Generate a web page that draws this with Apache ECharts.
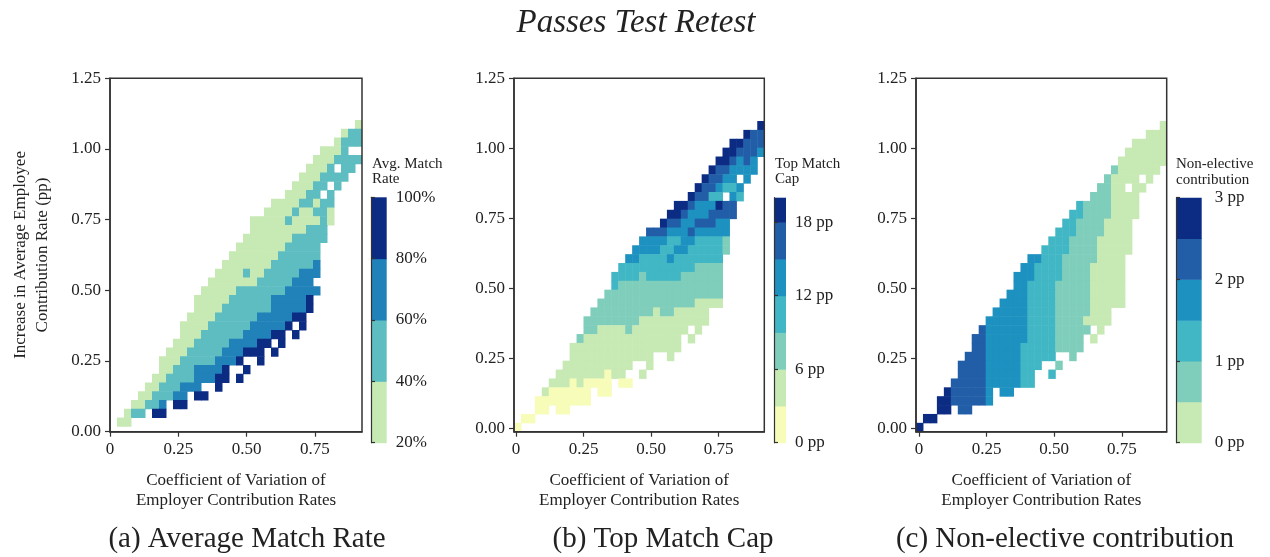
<!DOCTYPE html>
<html>
<head>
<meta charset="utf-8">
<title>Passes Test Retest</title>
<script src="https://cdn.jsdelivr.net/npm/echarts@6/dist/echarts.min.js"></script>
<style>
html, body { margin: 0; padding: 0; background: #fff; }
#main { width: 1270px; height: 557px; }
</style>
</head>
<body>
<div id="main"></div>
<script>
// axis ticks shared by the three panels
var xTicks = [0, 0.25, 0.5, 0.75];
var yTicks = [0, 0.25, 0.5, 0.75, 1, 1.25];

// colour bins of each panel
var matchRateEdges = [20, 40, 60, 80, 100];
var matchRateTicks = [20, 40, 60, 80, 100];
var matchCapEdges = [0, 3, 6, 9, 12, 15, 18, 20];
var matchCapTicks = [0, 6, 12, 18];
var nonElectiveEdges = [0, 0.5, 1, 1.5, 2, 2.5, 3];
var nonElectiveTicks = [0, 1, 2, 3];

// cell grid of each panel in data units (first column left edge, width, top row top edge, height)
var matchRateBins = {x0: 0, dx: 0.02561, yTop: 1.1022, dy: 0.03094};
var matchCapBins = {x0: -0.0074, dx: 0.02574, yTop: 1.0975, dy: 0.0317};
var nonElectiveBins = {x0: -0.011, dx: 0.02575, yTop: 1.0975, dy: 0.0317};

// cells, one row per line from top to bottom: [first column, last column, colour bin (1 = lowest)]
var matchRateRows = [
  [[35,35,1]],
  [[33,33,1],[34,35,2]],
  [[32,32,1],[33,35,2]],
  [[30,32,1],[33,33,2]],
  [[29,31,1],[32,35,2]],
  [[28,30,1],[31,31,2],[33,34,2]],
  [[27,29,1],[30,33,2]],
  [[26,28,1],[29,30,2],[32,32,2]],
  [[25,27,1],[28,29,2],[31,31,2]],
  [[23,26,1],[27,28,2],[29,29,1],[30,31,2]],
  [[22,25,1],[26,26,2],[27,28,1],[29,30,2],[31,31,1]],
  [[20,24,1],[25,25,2],[26,29,1],[30,30,2],[31,31,1]],
  [[20,27,1],[28,30,2]],
  [[19,25,1],[26,30,2]],
  [[18,24,1],[25,29,2]],
  [[17,23,1],[24,29,2]],
  [[16,22,1],[23,28,2],[29,29,3]],
  [[15,18,1],[19,19,2],[20,21,1],[22,26,2],[27,29,3]],
  [[14,20,1],[21,25,2],[26,28,3]],
  [[13,17,1],[18,24,2],[25,29,3]],
  [[12,16,1],[17,22,2],[23,27,3],[28,28,4]],
  [[12,15,1],[16,22,2],[23,27,3],[28,28,4]],
  [[11,14,1],[15,20,2],[21,25,3],[26,27,4]],
  [[10,13,1],[14,19,2],[20,24,3],[25,25,4],[27,27,4]],
  [[10,12,1],[13,18,2],[19,22,3],[23,24,4],[26,26,4]],
  [[9,11,1],[12,16,2],[17,20,3],[21,22,4],[24,24,4]],
  [[8,10,1],[11,15,2],[16,18,3],[19,21,4],[23,23,4]],
  [[7,9,1],[10,14,2],[15,17,3],[18,18,4],[21,21,4]],
  [[7,8,1],[9,11,2],[12,15,3],[16,16,4],[19,19,4]],
  [[6,7,1],[8,11,2],[12,14,3],[15,16,4],[18,18,4]],
  [[5,6,1],[7,9,2],[10,12,3],[15,15,4]],
  [[4,5,1],[6,8,2],[9,10,3],[12,13,4]],
  [[3,4,1],[5,6,2],[7,7,3],[9,10,4]],
  [[2,2,1],[3,4,2],[6,7,4]],
  [[1,2,1]]
];

var matchCapRows = [
  [[35,35,7]],
  [[33,33,7],[34,35,6]],
  [[31,32,7],[33,35,6]],
  [[30,31,7],[32,34,6],[35,35,5]],
  [[29,30,7],[31,31,6],[32,32,5],[33,33,6],[34,34,5]],
  [[28,28,7],[29,30,6],[31,34,5]],
  [[27,27,7],[28,29,6],[30,31,5],[33,33,5]],
  [[26,26,7],[27,28,6],[29,29,5],[30,31,4],[32,32,5]],
  [[25,25,7],[26,27,6],[28,29,4],[31,31,5],[32,32,4]],
  [[23,24,7],[25,25,6],[26,28,5],[29,29,7],[30,31,6]],
  [[22,23,7],[24,24,6],[25,27,5],[28,31,6]],
  [[21,21,7],[22,23,6],[24,25,5],[26,28,6],[29,30,5]],
  [[19,21,6],[22,24,5],[25,25,6],[26,30,5]],
  [[18,21,5],[22,23,4],[24,25,5],[26,29,4],[30,30,3]],
  [[17,20,5],[21,22,4],[23,24,5],[25,29,4],[30,30,3]],
  [[16,17,5],[18,21,4],[22,22,5],[23,29,4]],
  [[15,25,4],[26,29,3]],
  [[14,17,4],[18,18,3],[19,23,4],[24,29,3]],
  [[14,14,4],[15,29,3]],
  [[13,29,3]],
  [[12,25,3],[26,29,2]],
  [[11,19,3],[20,20,2],[21,22,3],[23,27,2]],
  [[10,17,3],[18,27,2]],
  [[10,11,3],[12,15,2],[16,16,3],[17,24,2],[26,26,2]],
  [[9,9,3],[10,23,2],[25,25,2]],
  [[8,23,2]],
  [[8,19,2],[22,22,2]],
  [[7,16,2],[19,19,2]],
  [[6,12,2],[13,13,1],[14,15,2],[18,18,2]],
  [[5,7,2],[8,8,1],[9,9,2],[10,13,1],[15,16,1]],
  [[4,4,2],[5,10,1],[12,13,1]],
  [[3,10,1]],
  [[3,4,1],[6,7,1]],
  [[1,2,1]],
  [[0,0,1]]
];

var nonElectiveRows = [
  [[35,35,1]],
  [[33,35,1]],
  [[31,35,1]],
  [[30,35,1]],
  [[29,35,1]],
  [[28,28,2],[29,34,1]],
  [[27,27,2],[28,31,1],[33,33,1]],
  [[26,27,2],[28,29,1],[31,32,1]],
  [[25,27,2],[28,31,1]],
  [[23,23,3],[24,27,2],[28,31,1]],
  [[22,23,3],[24,27,2],[28,31,1]],
  [[21,22,3],[23,26,2],[27,30,1]],
  [[20,22,3],[23,26,2],[27,30,1]],
  [[19,21,3],[22,25,2],[26,30,1]],
  [[18,21,3],[22,25,2],[26,30,1]],
  [[16,17,4],[18,20,3],[21,25,2],[26,29,1]],
  [[15,16,4],[17,20,3],[21,24,2],[25,29,1]],
  [[14,16,4],[17,20,3],[21,24,2],[25,29,1]],
  [[14,15,4],[16,19,3],[20,24,2],[25,29,1]],
  [[13,15,4],[16,19,3],[20,24,2],[25,29,1]],
  [[12,15,4],[16,19,3],[20,24,2],[25,29,1]],
  [[11,15,4],[16,19,3],[20,24,2],[25,27,1]],
  [[10,15,4],[16,19,3],[20,23,2],[24,27,1]],
  [[9,9,5],[10,15,4],[16,19,3],[20,24,2],[26,26,1]],
  [[8,9,5],[10,15,4],[16,19,3],[20,23,2],[25,25,1]],
  [[8,9,5],[10,14,4],[15,19,3],[20,23,2]],
  [[7,9,5],[10,14,4],[15,19,3],[22,22,2]],
  [[6,9,5],[10,14,4],[15,17,3],[20,20,2]],
  [[6,9,5],[10,14,4],[15,16,3],[19,19,3]],
  [[5,9,5],[10,14,4],[15,16,3]],
  [[4,4,6],[5,9,5],[10,10,4],[12,13,4]],
  [[3,4,6],[5,9,5],[10,10,4]],
  [[3,4,6],[6,7,5]],
  [[1,2,6]],
  [[0,0,6]]
];

// YlGnBu style colours
var matchRateColors = ['#c7e9b4', '#5dbdc1', '#2181b9', '#0c2c84'];
var matchCapColors = ['#f7fcb9', '#c7e9b4', '#7fcdbb', '#41b6c4', '#1d91c0', '#225ea8', '#0c2c84'];
var nonElectiveColors = ['#c7e9b4', '#7fcdbb', '#41b6c4', '#1d91c0', '#225ea8', '#0c2c84'];

var SERIF = '"Liberation Serif", "Times New Roman", serif';
var INK = '#222';
var LINE = '#333';

var chart = echarts.init(document.getElementById('main'));

function toCells(rows, bins) {
    var out = [];
    rows.forEach(function (runs, k) {
        var yc = bins.yTop - (k + 0.5) * bins.dy;
        runs.forEach(function (r) {
            for (var c = r[0]; c <= r[1]; c++) {
                out.push([bins.x0 + (c + 0.5) * bins.dx, yc, r[2]]);
            }
        });
    });
    return out;
}

function cellRenderer(bins, colors) {
    return function (params, api) {
        var x = api.value(0), y = api.value(1);
        var a = api.coord([x - bins.dx / 2, y + bins.dy / 2]);
        var b = api.coord([x + bins.dx / 2, y - bins.dy / 2]);
        var cs = params.coordSys;
        var shape = echarts.graphic.clipRectByRect(
            {x: a[0], y: a[1], width: b[0] - a[0] + 0.5, height: b[1] - a[1] + 0.5},
            {x: cs.x, y: cs.y, width: cs.width, height: cs.height});
        if (!shape) return;
        return {type: 'rect', shape: shape, style: {fill: colors[api.value(2) - 1]}};
    };
}

function barSegments(edges) {
    var out = [];
    for (var i = 0; i < edges.length - 1; i++) out.push([edges[i], edges[i + 1], i]);
    return out;
}

function barRenderer(colors) {
    return function (params, api) {
        var a = api.coord([0, api.value(1)]);
        var b = api.coord([1, api.value(0)]);
        return {type: 'rect', shape: {x: a[0], y: a[1], width: b[0] - a[0], height: b[1] - a[1] + 0.5},
            style: {fill: colors[api.value(2)]}};
    };
}

var panels = [
    {rows: matchRateRows, bins: matchRateBins, colors: matchRateColors, xMin: 0, yMin: 0, xMax: 0.922,
        edges: matchRateEdges, ticks: matchRateTicks, unit: '%', labelGap: 9},
    {rows: matchCapRows, bins: matchCapBins, colors: matchCapColors, xMin: -0.0074, yMin: -0.012, xMax: 0.9196,
        edges: matchCapEdges, ticks: matchCapTicks, unit: ' pp', labelGap: 9},
    {rows: nonElectiveRows, bins: nonElectiveBins, colors: nonElectiveColors, xMin: -0.011, yMin: -0.012, xMax: 0.916,
        edges: nonElectiveEdges, ticks: nonElectiveTicks, unit: ' pp', labelGap: 13}
];

var grids = [
    {left: 110, top: 78.2, width: 252, height: 353.5},
    {left: 514, top: 78.3, width: 250.3, height: 353.4},
    {left: 916, top: 78.3, width: 250.7, height: 353.4},
    {left: 371, top: 197.3, width: 15.7, height: 245.4},
    {left: 774, top: 197.7, width: 12, height: 245},
    {left: 1176, top: 197.7, width: 25.7, height: 245}
];
grids.forEach(function (g, i) {
    g.show = i < 3;
    g.borderColor = LINE;
    g.borderWidth = 1.5;
    g.z = 5;
});

var xAxes = [], yAxes = [], series = [];

panels.forEach(function (p, i) {
    xAxes.push({
        gridIndex: i, type: 'value', min: p.xMin, max: p.xMax, z: 5,
        axisLine: {show: true, onZero: false, lineStyle: {color: LINE, width: 1.5}},
        axisTick: {show: true, length: 5, customValues: xTicks, lineStyle: {color: LINE, width: 1.2}},
        axisLabel: {customValues: xTicks, margin: 9, fontFamily: SERIF, fontSize: 17, color: INK,
            formatter: function (v) { return v === 0 ? '0' : v.toFixed(2); }},
        splitLine: {show: false},
        name: 'Coefficient of Variation of\nEmployer Contribution Rates',
        nameLocation: 'middle', nameGap: 39,
        nameTextStyle: {fontFamily: SERIF, fontSize: 17, color: INK, lineHeight: 20}
    });
    yAxes.push({
        gridIndex: i, type: 'value', min: p.yMin, max: 1.25, z: 5,
        axisLine: {show: true, onZero: false, lineStyle: {color: LINE, width: 1.5}},
        axisTick: {show: true, length: 5, customValues: yTicks, lineStyle: {color: LINE, width: 1.2}},
        axisLabel: {customValues: yTicks, margin: 9, fontFamily: SERIF, fontSize: 17, color: INK,
            formatter: function (v) { return v.toFixed(2); }},
        splitLine: {show: false},
        name: i === 0 ? 'Increase in Average Employee\nContribution Rate (pp)' : '',
        nameLocation: 'middle', nameGap: 56, nameRotate: 90,
        nameTextStyle: {fontFamily: SERIF, fontSize: 17, color: INK, lineHeight: 22}
    });
    series.push({
        type: 'custom', xAxisIndex: i, yAxisIndex: i, z: 2,
        renderItem: cellRenderer(p.bins, p.colors),
        data: toCells(p.rows, p.bins)
    });
});

// colour bars
panels.forEach(function (p, i) {
    var gi = 3 + i;
    xAxes.push({gridIndex: gi, type: 'value', min: 0, max: 1, show: false});
    yAxes.push({
        gridIndex: gi, type: 'value', position: 'right',
        min: p.edges[0], max: p.edges[p.edges.length - 1], z: 5,
        axisLine: {show: true, lineStyle: {color: LINE, width: 1.2}},
        axisTick: {show: true, length: 4, customValues: p.ticks, lineStyle: {color: LINE, width: 1.2}},
        axisLabel: {customValues: p.ticks, margin: p.labelGap, fontFamily: SERIF, fontSize: 17, color: INK,
            formatter: (function (u) { return function (v) { return v + u; }; })(p.unit)},
        splitLine: {show: false}
    });
    series.push({
        type: 'custom', xAxisIndex: gi, yAxisIndex: gi,
        renderItem: barRenderer(p.colors),
        data: barSegments(p.edges)
    });
});

function label(text, x, y, size, align, extra) {
    var style = {text: text, x: 0, y: 0, fill: INK, fontFamily: SERIF, fontSize: size,
        align: align, textAlign: align, verticalAlign: 'middle', textVerticalAlign: 'middle'};
    for (var k in (extra || {})) style[k] = extra[k];
    return {type: 'text', x: x, y: y, style: style, z: 10};
}

var option = {
    backgroundColor: '#fff',
    animation: false,
    grid: grids,
    xAxis: xAxes,
    yAxis: yAxes,
    series: series,
    graphic: [
        label('Passes Test Retest', 636, 23, 33, 'center', {fontStyle: 'italic'}),
        label('(a) Average Match Rate', 247, 539, 29, 'center'),
        label('(b) Top Match Cap', 663, 539, 29, 'center'),
        label('(c) Non-elective contribution', 1065, 539, 29, 'center'),
        label('Avg. Match', 372, 164, 15, 'left'),
        label('Rate', 372, 179, 15, 'left'),
        label('Top Match', 775, 164, 15, 'left'),
        label('Cap', 775, 179, 15, 'left'),
        label('Non-elective', 1176, 164, 15, 'left'),
        label('contribution', 1176, 180, 15, 'left')
    ]
};

chart.setOption(option);
</script>
</body>
</html>
